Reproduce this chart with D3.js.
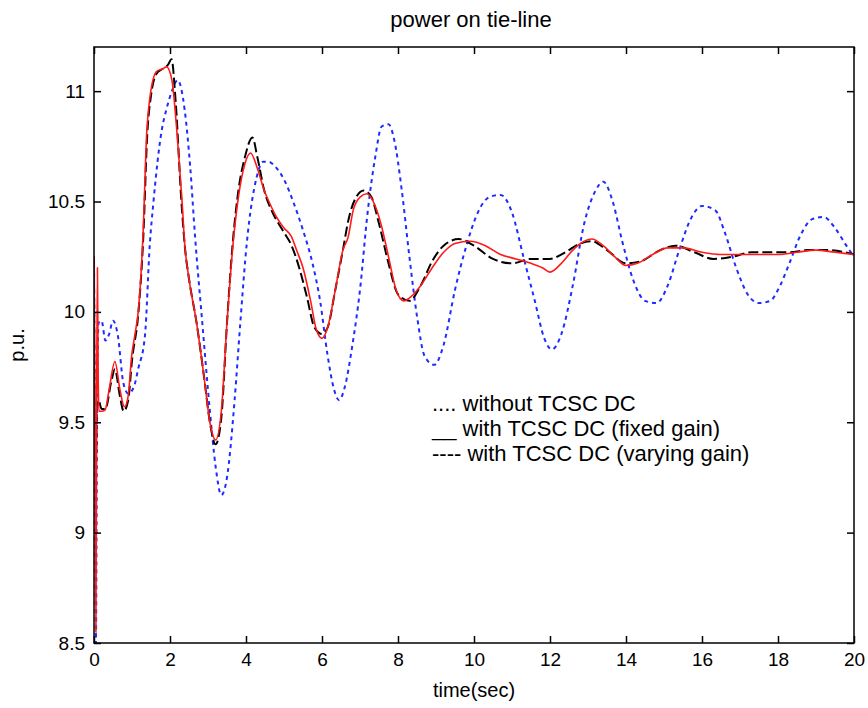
<!DOCTYPE html>
<html>
<head>
<meta charset="utf-8">
<script src="https://cdn.jsdelivr.net/npm/d3@7"></script>
<style>
  html, body { margin: 0; padding: 0; background: #ffffff; }
  svg { display: block; }
  text { font-family: "Liberation Sans", Arial, sans-serif; fill: #000; }
</style>
</head>
<body>
<script>
// Tie-line power response, p.u. versus time in seconds: [time, power]
const withoutDC = [
  [0,10.25],[0.02,9.4],[0.05,8.5],[0.08,9.5],[0.12,9.95],[0.2,9.96],[0.3,9.87],[0.4,9.9],
  [0.5,9.96],[0.63,9.89],[0.77,9.68],[0.9,9.63],[1.05,9.66],[1.16,9.74],[1.34,9.89],[1.47,10.31],
  [1.56,10.49],[1.78,10.82],[1.91,10.92],[2.05,11.0],[2.2,11.05],[2.39,10.91],[2.53,10.66],[2.66,10.34],
  [2.85,9.95],[3.05,9.55],[3.2,9.3],[3.35,9.17],[3.5,9.25],[3.7,9.6],[3.85,9.95],[4.02,10.31],
  [4.28,10.61],[4.45,10.68],[4.6,10.68],[4.76,10.66],[5.0,10.6],[5.24,10.5],[5.5,10.37],[5.75,10.22],
  [5.95,10.05],[6.15,9.8],[6.3,9.66],[6.45,9.6],[6.6,9.66],[6.8,9.85],[7.0,10.1],[7.2,10.45],
  [7.4,10.7],[7.57,10.84],[7.75,10.85],[7.9,10.78],[8.1,10.55],[8.3,10.25],[8.5,9.98],[8.7,9.8],
  [8.95,9.76],[9.2,9.85],[9.5,10.1],[9.8,10.3],[10.1,10.45],[10.4,10.52],[10.7,10.53],[11.0,10.45],
  [11.3,10.25],[11.6,10.05],[11.85,9.88],[12.05,9.83],[12.3,9.9],[12.6,10.12],[12.9,10.4],[13.2,10.55],
  [13.4,10.59],[13.65,10.5],[13.9,10.32],[14.2,10.14],[14.5,10.05],[14.8,10.04],[15.1,10.12],[15.4,10.28],
  [15.7,10.42],[16.0,10.48],[16.35,10.46],[16.6,10.36],[16.9,10.2],[17.2,10.08],[17.5,10.04],[17.8,10.05],
  [18.0,10.1],[18.3,10.22],[18.6,10.35],[18.9,10.42],[19.2,10.43],[19.5,10.38],[19.8,10.3],[20,10.25]
];

const fixedGain = [
  [0,10.25],[0.02,9.4],[0.05,9.3],[0.08,9.6],[0.12,9.6],[0.2,9.56],[0.3,9.56],[0.45,9.68],
  [0.55,9.74],[0.68,9.62],[0.78,9.55],[0.9,9.6],[1.0,9.78],[1.17,10.0],[1.3,10.35],[1.4,10.8],
  [1.5,10.98],[1.65,11.08],[1.8,11.1],[1.95,11.12],[2.04,11.145],[2.15,10.95],[2.3,10.5],[2.4,10.28],
  [2.5,10.15],[2.7,9.95],[2.9,9.7],[3.05,9.5],[3.2,9.4],[3.35,9.52],[3.5,9.95],[3.66,10.33],
  [3.8,10.55],[3.97,10.7],[4.17,10.79],[4.3,10.7],[4.48,10.55],[4.7,10.45],[5.0,10.36],[5.2,10.3],
  [5.4,10.2],[5.6,10.07],[5.8,9.93],[6.0,9.9],[6.15,9.93],[6.35,10.1],[6.55,10.28],[6.7,10.42],
  [6.9,10.52],[7.1,10.55],[7.3,10.52],[7.5,10.4],[7.75,10.22],[8.0,10.08],[8.3,10.05],[8.6,10.12],
  [8.9,10.23],[9.2,10.3],[9.6,10.33],[10.0,10.3],[10.5,10.24],[11.0,10.22],[11.5,10.24],[12.0,10.24],
  [12.4,10.27],[12.8,10.31],[13.1,10.32],[13.5,10.28],[14.0,10.22],[14.4,10.23],[14.9,10.28],[15.3,10.3],
  [15.8,10.27],[16.3,10.24],[16.8,10.25],[17.3,10.27],[17.8,10.27],[18.3,10.27],[18.8,10.28],[19.3,10.28],
  [20,10.26]
];

const varyingGain = [
  [0,10.25],[0.03,9.4],[0.05,8.55],[0.07,9.6],[0.09,10.2],[0.11,9.7],[0.13,9.55],[0.2,9.55],
  [0.29,9.555],[0.4,9.65],[0.55,9.775],[0.68,9.65],[0.8,9.57],[0.9,9.62],[0.99,9.8],[1.08,9.9],
  [1.17,10.01],[1.29,10.35],[1.39,10.82],[1.47,10.97],[1.65,11.09],[1.8,11.1],[1.91,11.11],[2.05,11.05],
  [2.18,10.82],[2.31,10.52],[2.39,10.3],[2.5,10.15],[2.7,9.95],[2.9,9.7],[3.05,9.5],[3.2,9.42],
  [3.35,9.55],[3.5,9.95],[3.66,10.31],[3.8,10.52],[3.97,10.67],[4.12,10.72],[4.3,10.65],[4.48,10.55],
  [4.63,10.49],[4.8,10.43],[5.0,10.38],[5.2,10.34],[5.33,10.28],[5.5,10.2],[5.7,10.05],[5.85,9.92],
  [6.0,9.88],[6.15,9.93],[6.35,10.1],[6.55,10.28],[6.69,10.34],[6.82,10.46],[7.0,10.52],[7.18,10.535],
  [7.35,10.5],[7.55,10.4],[7.75,10.25],[7.95,10.1],[8.15,10.05],[8.35,10.07],[8.6,10.12],[8.9,10.2],
  [9.2,10.27],[9.5,10.31],[9.9,10.32],[10.3,10.3],[10.7,10.26],[11.1,10.24],[11.5,10.22],[11.8,10.2],
  [12.0,10.18],[12.3,10.22],[12.6,10.28],[12.9,10.32],[13.1,10.33],[13.4,10.3],[13.7,10.25],[14.0,10.21],
  [14.3,10.22],[14.7,10.26],[15.1,10.29],[15.5,10.29],[16.0,10.27],[16.5,10.26],[17.0,10.26],[17.5,10.26],
  [18.0,10.26],[18.5,10.27],[19.0,10.28],[19.5,10.27],[20,10.26]
];

const xTicks = [0, 2, 4, 6, 8, 10, 12, 14, 16, 18, 20];
const yTicks = [8.5, 9, 9.5, 10, 10.5, 11];
const legendLines = [
  ".... without TCSC DC",
  "__ with TCSC DC (fixed gain)",
  "---- with TCSC DC (varying gain)"
];

const W = 868, H = 708;
const plot = { left: 94, right: 854, top: 47, bottom: 643 };

const svg = d3.select("body").append("svg")
  .attr("width", W).attr("height", H);

const x = d3.scaleLinear().domain([0, 20]).range([plot.left, plot.right]);
const y = d3.scaleLinear().domain([8.5, 11.2]).range([plot.bottom, plot.top]);

// curves, clipped to the axes box
svg.append("clipPath").attr("id", "box")
  .append("rect")
  .attr("x", plot.left).attr("y", plot.top)
  .attr("width", plot.right - plot.left).attr("height", plot.bottom - plot.top);

const line = d3.line()
  .x(d => x(d[0])).y(d => y(d[1]))
  .curve(d3.curveMonotoneX);

const g = svg.append("g").attr("clip-path", "url(#box)");

g.append("path").datum(withoutDC)
  .attr("d", line).attr("fill", "none")
  .attr("stroke", "#1f2bff").attr("stroke-width", 2)
  .attr("stroke-dasharray", "4,4");

g.append("path").datum(fixedGain)
  .attr("d", line).attr("fill", "none")
  .attr("stroke", "#000").attr("stroke-width", 2)
  .attr("stroke-dasharray", "10,4");

g.append("path").datum(varyingGain)
  .attr("d", line).attr("fill", "none")
  .attr("stroke", "#ff1a1a").attr("stroke-width", 1.6);

// axes with inward ticks on every side of the box
const tickLen = 7;
svg.append("g").attr("transform", `translate(0,${plot.bottom})`)
  .call(d3.axisBottom(x).tickValues(xTicks).tickSizeInner(-tickLen).tickSizeOuter(0).tickPadding(10))
  .call(a => a.select(".domain").remove());
svg.append("g").attr("transform", `translate(0,${plot.top})`)
  .call(d3.axisTop(x).tickValues(xTicks).tickSizeInner(-tickLen).tickSizeOuter(0).tickFormat(""))
  .call(a => a.select(".domain").remove());
svg.append("g").attr("transform", `translate(${plot.left},0)`)
  .call(d3.axisLeft(y).tickValues(yTicks).tickSizeInner(-tickLen).tickSizeOuter(0).tickPadding(9)
    .tickFormat(d3.format("")))
  .call(a => a.select(".domain").remove());
svg.append("g").attr("transform", `translate(${plot.right},0)`)
  .call(d3.axisRight(y).tickValues(yTicks).tickSizeInner(-tickLen).tickSizeOuter(0).tickFormat(""))
  .call(a => a.select(".domain").remove());

svg.selectAll(".tick line").attr("stroke", "#000").attr("stroke-width", 1.5);
svg.selectAll(".tick text")
  .attr("font-family", "'Liberation Sans', Arial, sans-serif")
  .attr("font-size", 19).attr("fill", "#000");

svg.append("rect")
  .attr("x", plot.left).attr("y", plot.top)
  .attr("width", plot.right - plot.left).attr("height", plot.bottom - plot.top)
  .attr("fill", "none").attr("stroke", "#000").attr("stroke-width", 1.5);

// titles
svg.append("text")
  .attr("x", (plot.left + plot.right) / 2 - 3).attr("y", 27)
  .attr("text-anchor", "middle").attr("font-size", 22)
  .text("power on tie-line");
svg.append("text")
  .attr("x", (plot.left + plot.right) / 2).attr("y", 697)
  .attr("text-anchor", "middle").attr("font-size", 20)
  .text("time(sec)");
svg.append("text")
  .attr("transform", `translate(24,${(plot.top + plot.bottom) / 2}) rotate(-90)`)
  .attr("text-anchor", "middle").attr("font-size", 20)
  .text("p.u.");

// legend note
svg.append("g").selectAll("text").data(legendLines).join("text")
  .attr("x", 432).attr("y", (d, i) => 411 + i * 25)
  .attr("font-size", 22)
  .text(d => d);
</script>
</body>
</html>
